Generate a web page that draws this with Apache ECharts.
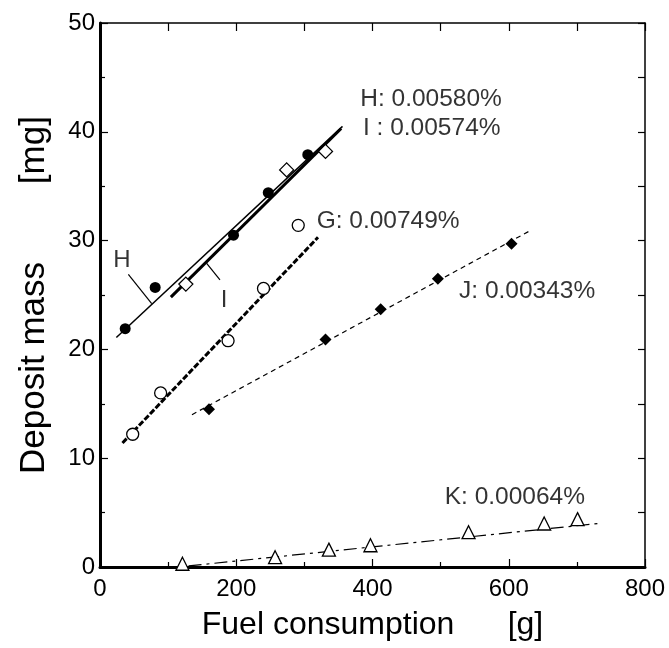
<!DOCTYPE html>
<html>
<head>
<meta charset="utf-8">
<script src="https://cdn.jsdelivr.net/npm/echarts@6/dist/echarts.min.js"></script>
<style>
html,body{margin:0;padding:0;background:#fff;}
#chart{width:669px;height:648px;}
</style>
</head>
<body>
<div id="chart"></div>
<script>
// ---- data ----
const xTicks = [0, 200, 400, 600, 800];
const yTicks = [0, 10, 20, 30, 40, 50];

const hX = [37, 81, 196, 247, 305];
const hY = [21.9, 25.7, 30.5, 34.4, 37.9];
const iX = [126, 274, 331];
const iY = [26.0, 36.5, 38.2];
const gX = [48, 89, 188, 240, 291];
const gY = [12.2, 16.0, 20.8, 25.6, 31.4];
const jX = [160, 331, 412, 496, 604];
const jY = [14.5, 20.9, 23.7, 26.5, 29.7];
const kX = [121, 257, 336, 397, 541, 652, 701];
const kY = [0.3, 0.9, 1.6, 2.0, 3.2, 4.0, 4.4];

// fitted lines (end points)
const hFitX = [24, 356];  const hFitY = [21.1, 40.5];
const iFitX = [104, 354]; const iFitY = [24.8, 40.3];
const gFitX = [33, 320];  const gFitY = [11.4, 30.3];
const jFitX = [135, 631]; const jFitY = [14.0, 30.9];
const kFitX = [130, 732]; const kFitY = [0.1, 4.0];

// annotation texts and anchors (data units)
const noteTexts = ['H: 0.00580%', 'I : 0.00574%', 'G: 0.00749%', 'J: 0.00343%', 'K: 0.00064%'];
const noteX = [382, 386, 318, 527, 506];
const noteY = [43.0, 40.3, 31.8, 25.3, 6.4];
const tagTexts = ['H', 'I'];
const tagX = [32, 182];
const tagY = [28.2, 24.5];
const hLeadX = [41.6, 75.9]; const hLeadY = [26.9, 24.2];
const iLeadX = [156.6, 176.1]; const iLeadY = [27.9, 26.4];

// ---- build ----
const zip = (xs, ys) => xs.map((x, k) => [x, ys[k]]);
const FONT = '"Liberation Sans", Arial, sans-serif';

const chart = echarts.init(document.getElementById('chart'), null, {renderer: 'canvas'});

function fitLine(xs, ys, width, type) {
  return {
    type: 'line', data: zip(xs, ys), symbol: 'none', silent: true, z: 2,
    lineStyle: {color: '#000', width: width, type: type, opacity: 1}
  };
}
function pts(xs, ys, symbol, size, filled) {
  return {
    type: 'scatter', data: zip(xs, ys), symbol: symbol, symbolSize: size, z: 5,
    itemStyle: filled ? {color: '#000', borderColor: '#000', borderWidth: 0, opacity: 1}
                      : {color: '#fff', borderColor: '#000', borderWidth: 1.3, opacity: 1}
  };
}

const option = {
  animation: false,
  backgroundColor: '#fff',
  grid: {left: 100, right: 24, top: 23, bottom: 81, containLabel: false},
  xAxis: [{
    type: 'value', min: 0, max: 800, interval: 200, position: 'bottom',
    name: 'Fuel consumption      [g]', nameLocation: 'middle', nameGap: 42,
    nameTextStyle: {fontFamily: FONT, fontSize: 32, color: '#000'},
    axisLine: {show: true, onZero: false, lineStyle: {color: '#000', width: 3}},
    axisTick: {show: true, inside: true, length: 8, lineStyle: {color: '#000', width: 1.2}},
    minorTick: {show: true, splitNumber: 2, length: 5, lineStyle: {color: '#000', width: 1.2}},
    axisLabel: {fontFamily: FONT, fontSize: 24, color: '#000', margin: 10,
      formatter: v => xTicks.includes(v) ? String(v) : ''},
    splitLine: {show: false}
  }, {
    type: 'value', min: 0, max: 800, interval: 100, position: 'top',
    axisLine: {show: true, onZero: false, lineStyle: {color: '#000', width: 1.5}},
    axisTick: {show: true, inside: true, length: 8, lineStyle: {color: '#000', width: 1.2}},
    axisLabel: {show: false}, splitLine: {show: false}
  }],
  yAxis: [{
    type: 'value', min: 0, max: 50, interval: 10, position: 'left',
    name: 'Deposit mass        [mg]', nameLocation: 'middle', nameGap: 48, nameRotate: 90,
    nameTextStyle: {fontFamily: FONT, fontSize: 35, color: '#000'},
    axisLine: {show: true, onZero: false, lineStyle: {color: '#000', width: 3}},
    axisTick: {show: true, inside: true, length: 8, lineStyle: {color: '#000', width: 1.2}},
    minorTick: {show: true, splitNumber: 2, length: 5, lineStyle: {color: '#000', width: 1.2}},
    axisLabel: {fontFamily: FONT, fontSize: 24, color: '#000', margin: 5,
      formatter: v => yTicks.includes(v) ? String(v) : ''},
    splitLine: {show: false}
  }, {
    type: 'value', min: 0, max: 50, interval: 5, position: 'right',
    axisLine: {show: true, onZero: false, lineStyle: {color: '#000', width: 1.5}},
    axisTick: {show: true, inside: true, length: 7, lineStyle: {color: '#000', width: 1.2}},
    axisLabel: {show: false}, splitLine: {show: false}
  }],
  series: [
    fitLine(hFitX, hFitY, 1.5, 'solid'),
    fitLine(iFitX, iFitY, 3, 'solid'),
    fitLine(gFitX, gFitY, 3, [6, 2]),
    fitLine(jFitX, jFitY, 1.2, [5, 4]),
    fitLine(kFitX, kFitY, 1.2, [13, 5, 3, 5]),
    fitLine(hLeadX, hLeadY, 1.2, 'solid'),
    fitLine(iLeadX, iLeadY, 1.2, 'solid'),
    pts(hX, hY, 'circle', 11, true),
    pts(iX, iY, 'diamond', 14, false),
    pts(gX, gY, 'circle', 12, false),
    pts(jX, jY, 'diamond', 12, true),
    pts(kX, kY, 'triangle', 13, false),
    {
      type: 'scatter', symbolSize: 0, silent: true, z: 6,
      data: noteTexts.map((t, k) => ({value: [noteX[k], noteY[k]], name: t})),
      label: {show: true, position: 'right', distance: 0, formatter: p => p.name,
        fontFamily: FONT, fontSize: 24.5, color: '#000'}
    },
    {
      type: 'scatter', symbolSize: 0, silent: true, z: 6,
      data: tagTexts.map((t, k) => ({value: [tagX[k], tagY[k]], name: t})),
      label: {show: true, position: 'inside', formatter: p => p.name,
        fontFamily: FONT, fontSize: 24, color: '#000'}
    }
  ]
};
chart.setOption(option);
</script>
</body>
</html>
